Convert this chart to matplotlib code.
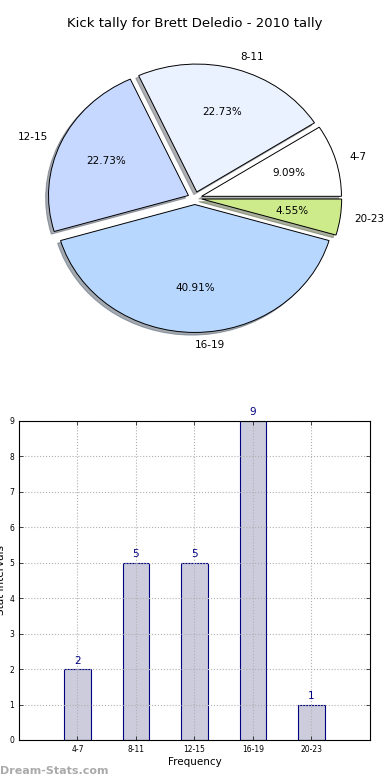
import matplotlib
matplotlib.use("Agg")
import matplotlib.pyplot as plt

# --- data ------------------------------------------------------------------
intervals = ["4-7", "8-11", "12-15", "16-19", "20-23"]
counts = [2, 5, 5, 9, 1]
pie_colors = ["#ffffff", "#eaf1ff", "#c6d8ff", "#b7d7ff", "#cdeb8b"]
title = "Kick tally for Brett Deledio - 2010 tally"

plt.rcParams["font.family"] = "DejaVu Sans"

fig = plt.figure(figsize=(3.9, 7.8), dpi=100)

# --- pie --------------------------------------------------------------------
ax_pie = fig.add_axes([0.051, 0.541, 0.897, 0.41])
wedges, texts, autotexts = ax_pie.pie(
    counts,
    labels=intervals,
    colors=pie_colors,
    explode=[0.05] * len(counts),
    autopct="%.2f%%",
    pctdistance=0.65,
    labeldistance=1.1,
    shadow={"ox": -0.015, "oy": -0.015, "shade": 0.6},
    startangle=0,
    wedgeprops={"edgecolor": "black", "linewidth": 0.7},
    textprops={"fontsize": 7.5},
)
ax_pie.set_aspect("auto")
ax_pie.set_xlim(-1.25, 1.25)
ax_pie.set_ylim(-1.25, 1.25)
ax_pie.set_title(title, fontsize=9.5, pad=8)

# --- bars -------------------------------------------------------------------
ax_bar = fig.add_axes([0.0487, 0.0513, 0.9, 0.409])
xs = list(range(len(intervals)))
ax_bar.bar(xs, counts, width=0.45, color="#ccccdd", edgecolor="navy",
           linewidth=0.8, zorder=1)
for x, c in zip(xs, counts):
    ax_bar.text(x, c + 0.1, str(c), ha="center", va="bottom",
                color="navy", fontsize=7.5)
ax_bar.set_xlim(-1, 5)
ax_bar.set_ylim(0, 9)
ax_bar.set_xticks(xs)
ax_bar.set_xticklabels(intervals)
ax_bar.set_yticks(range(10))
ax_bar.tick_params(labelsize=5.5, direction="in", top=True, right=True,
                   length=3, width=0.5)
ax_bar.set_axisbelow(False)
ax_bar.grid(True, linestyle=":", color="#b0b0b0", linewidth=0.8)
for sp in ax_bar.spines.values():
    sp.set_zorder(5)
ax_bar.set_xlabel("Frequency", fontsize=7.5, labelpad=2)
ax_bar.set_ylabel("Stat Intervals", fontsize=7.5, labelpad=2)

fig.text(0.0, 0.005, "Dream-Stats.com", color="#aaaaaa", fontsize=8,
         fontweight="bold", ha="left", va="bottom")

fig.savefig("out.png", dpi=100)
